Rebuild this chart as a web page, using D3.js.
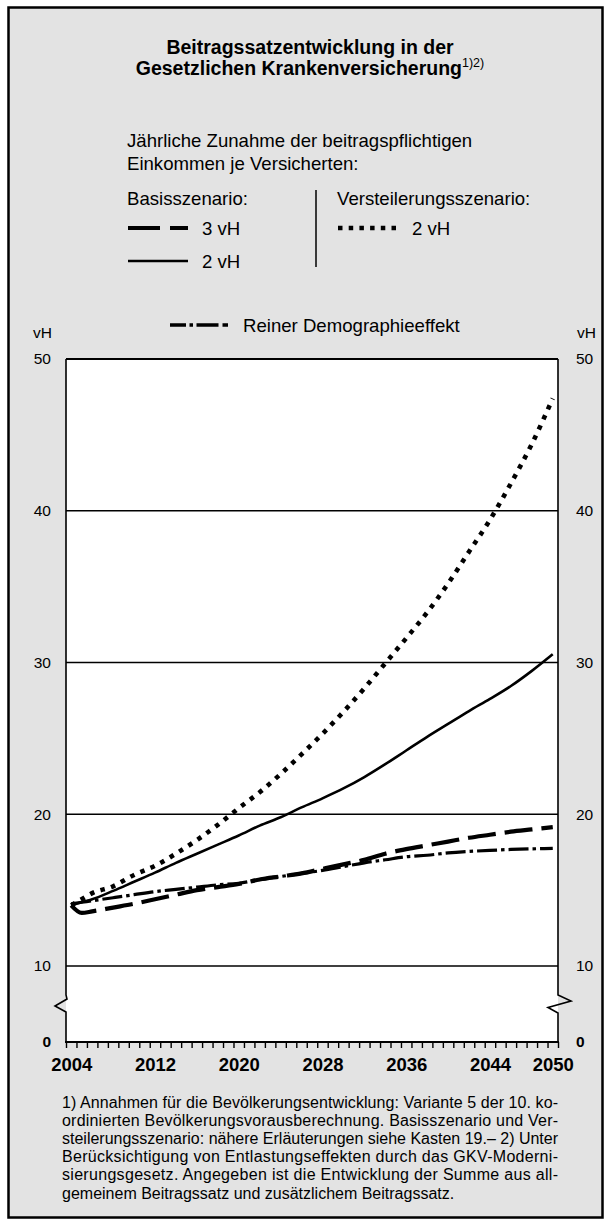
<!DOCTYPE html>
<html><head><meta charset="utf-8">
<script src="https://cdn.jsdelivr.net/npm/d3@7"></script>
<style>
body{margin:0;background:#fff}
svg{display:block}
text{font-family:"Liberation Sans",Arial,Helvetica,sans-serif;fill:#000}
</style>
</head><body>
<svg id="c" width="611" height="1226"></svg>
<script>
// ---- data ----
const years     = [2004,2005,2006,2008,2010,2012,2014,2016,2018,2020,2022,2024,2026,2028,2030,2032,2034,2036,2038,2040,2042,2044,2046,2048,2050];
const basis3    = [14.0,13.5,13.6,13.85,14.1,14.4,14.7,15.0,15.2,15.4,15.7,15.9,16.1,16.4,16.7,17.0,17.4,17.7,17.95,18.2,18.45,18.65,18.85,19.0,19.15];
const basis2    = [14.0,14.2,14.4,14.95,15.55,16.15,16.8,17.4,18.0,18.6,19.25,19.8,20.45,21.05,21.7,22.45,23.3,24.2,25.1,25.95,26.8,27.6,28.45,29.45,30.55];
const versteil2 = [14.0,14.4,14.8,15.25,16.0,16.6,17.4,18.3,19.3,20.4,21.45,22.65,23.95,25.3,26.75,28.3,29.95,31.6,33.3,35.2,37.3,39.4,41.8,44.4,47.4];
const demo      = [14.1,14.2,14.3,14.5,14.7,14.9,15.05,15.2,15.35,15.45,15.7,15.9,16.1,16.3,16.55,16.8,17.0,17.2,17.3,17.45,17.55,17.62,17.68,17.72,17.75];
const yearLabels = [2004,2012,2020,2028,2036,2044,2050];
const yTicks = [10,20,30,40,50];
const gridValues = [10,20,30,40];
const title1 = "Beitragssatzentwicklung in der";
const title2 = "Gesetzlichen Krankenversicherung";
const titleSup = "1)2)";
const legendIntro = ["Jährliche Zunahme der beitragspflichtigen","Einkommen je Versicherten:"];
const legendBasis = "Basisszenario:";
const legendVerst = "Versteilerungsszenario:";
const label3 = "3 vH", label2 = "2 vH";
const legendDemo = "Reiner Demographieeffekt";
const unitLabel = "vH";
const footnoteLines = [
 "1) Annahmen für die Bevölkerungsentwicklung: Variante 5 der 10. ko-",
 "ordinierten Bevölkerungsvorausberechnung. Basisszenario und Ver-",
 "steilerungsszenario: nähere Erläuterungen siehe Kasten 19.– 2) Unter",
 "Berücksichtigung von Entlastungseffekten durch das GKV-Moderni-",
 "sierungsgesetz. Angegeben ist die Entwicklung der Summe aus all-",
 "gemeinem Beitragssatz und zusätzlichem Beitragssatz."
];

// ---- layout ----
const svg = d3.select("#c");
const L = 66, R = 558, T = 359, B = 1042, BRK = 966;
const x = d3.scaleLinear().domain([2003.5, 2050.5]).range([L, R]);
const y = d3.scaleLinear().domain([0, 10, 50]).range([B, BRK, T]);

// outer box
svg.append("rect").attr("x",8.5).attr("y",7.5).attr("width",594).attr("height",1210)
  .attr("fill","#e3e3e3").attr("stroke","#000").attr("stroke-width",2.5);

// title
svg.append("text").attr("x",310).attr("y",54).attr("text-anchor","middle")
  .attr("font-size",19.5).attr("font-weight","bold").text(title1);
const t2 = svg.append("text").attr("x",310).attr("y",75).attr("text-anchor","middle")
  .attr("font-size",19.5).attr("font-weight","bold");
t2.append("tspan").text(title2);
t2.append("tspan").attr("dy",-8).attr("font-size",12.5).attr("font-weight","normal").text(titleSup);

// legend
const lf = 18.6;
legendIntro.forEach((s,i)=>svg.append("text").attr("x",127).attr("y",147+i*23).attr("font-size",lf).text(s));
svg.append("text").attr("x",127).attr("y",205).attr("font-size",lf).text(legendBasis);
svg.append("text").attr("x",337).attr("y",205).attr("font-size",lf).text(legendVerst);
svg.append("line").attr("x1",316).attr("x2",316).attr("y1",190).attr("y2",267).attr("stroke","#000").attr("stroke-width",1.5);
// samples
svg.append("line").attr("x1",128).attr("x2",188).attr("y1",228).attr("y2",228).attr("stroke","#000").attr("stroke-width",4.2).attr("stroke-dasharray","32,10,20");
svg.append("text").attr("x",202).attr("y",234.5).attr("font-size",lf).text(label3);
svg.append("line").attr("x1",128).attr("x2",188).attr("y1",261).attr("y2",261).attr("stroke","#000").attr("stroke-width",2.6);
svg.append("text").attr("x",202).attr("y",267.5).attr("font-size",lf).text(label2);
svg.append("line").attr("x1",338).attr("x2",397).attr("y1",228).attr("y2",228).attr("stroke","#000").attr("stroke-width",4.5).attr("stroke-dasharray","4.5,6.2");
svg.append("text").attr("x",412).attr("y",234.5).attr("font-size",lf).text(label2);
svg.append("line").attr("x1",170).attr("x2",228).attr("y1",325).attr("y2",325).attr("stroke","#000").attr("stroke-width",3.4).attr("stroke-dasharray","16,3.5,3.5,3.5,22,4,5,0");
svg.append("text").attr("x",243).attr("y",331.5).attr("font-size",lf).text(legendDemo);

// plot background
svg.append("rect").attr("x",L).attr("y",T).attr("width",R-L).attr("height",B-T).attr("fill","#fff");

// gridlines
svg.append("g").selectAll("line").data(gridValues).join("line")
  .attr("x1",L).attr("x2",R).attr("y1",d=>y(d)).attr("y2",d=>y(d))
  .attr("stroke","#000").attr("stroke-width",1.4);
// top border
svg.append("line").attr("x1",L).attr("x2",R).attr("y1",T).attr("y2",T).attr("stroke","#000").attr("stroke-width",2);

// side borders with break
const zzL = [[L,T],[L,995],[L+1,999],[L-11,1006],[L,1012],[L,B]];
const zzR = [[R,T],[R,995],[R+13,1001],[R-10,1007.5],[R,1013],[R,B]];
[zzL,zzR].forEach(p=>svg.append("path").attr("d",d3.line()(p)).attr("fill","none").attr("stroke","#000").attr("stroke-width",1.6));

// bottom axis with minor ticks (year boundaries)
const minor = d3.range(2003.5, 2051, 1);
const gx = svg.append("g").attr("transform",`translate(0,${B})`)
  .call(d3.axisBottom(x).tickValues(minor).tickSize(6).tickFormat(""));
gx.select(".domain").remove();
gx.selectAll(".tick line").attr("stroke","#000").attr("stroke-width",1.4);
svg.append("line").attr("x1",L-1).attr("x2",R+1).attr("y1",B).attr("y2",B).attr("stroke","#000").attr("stroke-width",2.2);
const gxl = svg.append("g").attr("transform",`translate(0,${B})`)
  .call(d3.axisBottom(x).tickValues(yearLabels).tickSize(0).tickPadding(16).tickFormat(d3.format("d")));
gxl.select(".domain").remove();
gxl.selectAll("text").attr("font-size",18.5).attr("font-weight","bold").attr("font-family","Liberation Sans, Arial, sans-serif").attr("fill","#000");

// y axes labels
const gyl = svg.append("g").attr("transform",`translate(${L},0)`)
  .call(d3.axisLeft(y).tickValues(yTicks).tickSize(0).tickPadding(15));
gyl.select(".domain").remove();
const gyr = svg.append("g").attr("transform",`translate(${R},0)`)
  .call(d3.axisRight(y).tickValues(yTicks).tickSize(0).tickPadding(18));
gyr.select(".domain").remove();
[gyl,gyr].forEach(g=>g.selectAll("text").attr("font-size",15.5).attr("font-family","Liberation Sans, Arial, sans-serif").attr("fill","#000"));
svg.append("text").attr("x",L-15).attr("y",y(0)+5).attr("text-anchor","end").attr("font-size",15.5).attr("font-weight","bold").text("0");
svg.append("text").attr("x",R+18).attr("y",y(0)+5).attr("font-size",15.5).attr("font-weight","bold").text("0");
svg.append("text").attr("x",L-14).attr("y",338).attr("text-anchor","end").attr("font-size",15.5).text(unitLabel);
svg.append("text").attr("x",R+19).attr("y",338).attr("font-size",15.5).text(unitLabel);

// series
const line = vals => d3.line().x((d,i)=>x(years[i])).y(d=>y(d)).curve(d3.curveMonotoneX)(vals);
const styles = [
  {v:demo, w:3.2, dash:"20,4,3.5,4"},
  {v:basis3, w:4.2, dash:"28,9"},
  {v:basis2, w:2.6, dash:null},
  {v:versteil2, w:4.6, dash:"4.5,6.5"}
];
styles.forEach(s=>{
  const p = svg.append("path").attr("d",line(s.v)).attr("fill","none").attr("stroke","#000").attr("stroke-width",s.w);
  if(s.dash) p.attr("stroke-dasharray",s.dash);
});

// footnote
footnoteLines.forEach((s,i)=>{
  const t = svg.append("text").attr("x",62).attr("y",1108+i*18.1).attr("font-size",16).text(s);
  if(i<footnoteLines.length-1) t.attr("textLength",496).attr("lengthAdjust","spacing");
});
</script>
</body></html>
